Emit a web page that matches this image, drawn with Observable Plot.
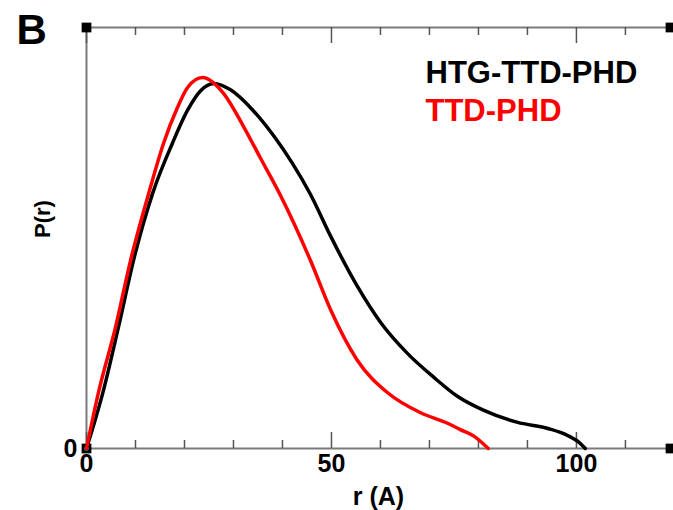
<!DOCTYPE html>
<html>
<head>
<meta charset="utf-8">
<script src="https://cdn.jsdelivr.net/npm/d3@7"></script>
<script src="https://cdn.jsdelivr.net/npm/@observablehq/plot@0.6"></script>
<style>
  html, body { margin: 0; padding: 0; background: white; }
</style>
</head>
<body>
<div id="chart"></div>
<script>
// Series: HTG-TTD-PHD (black)
const rBlack = [0, 3.3, 6.5, 9.6, 13.5, 17.5, 20.6, 23.3, 26, 29.4, 34, 38.5, 42, 45.7, 49.8, 55.3, 60, 65.5, 70.8, 75.7, 81, 88, 94, 98.2, 100.8, 101.8];
const pBlack = [0, 0.131, 0.287, 0.447, 0.606, 0.724, 0.803, 0.850, 0.867, 0.852, 0.803, 0.738, 0.678, 0.604, 0.505, 0.385, 0.300, 0.226, 0.170, 0.124, 0.091, 0.062, 0.048, 0.031, 0.012, 0];
// Series: TTD-PHD (red)
const rRed = [0, 2.4, 5.9, 9.0, 12.7, 15.7, 18.5, 20.6, 23.7, 28, 32, 35.5, 39.6, 45.7, 49.8, 55.3, 61.4, 68.2, 73.7, 76.3, 79, 82];
const pRed = [0, 0.131, 0.287, 0.447, 0.606, 0.724, 0.808, 0.857, 0.881, 0.843, 0.766, 0.690, 0.601, 0.447, 0.330, 0.209, 0.133, 0.085, 0.060, 0.045, 0.030, 0];

const seriesNames = ["HTG-TTD-PHD", "TTD-PHD"];
const seriesColors = ["black", "#ff0000"];

const xDomain = [0, 119.2];
const yDomain = [0, 1];
const minorTicks = [10, 20, 30, 40, 60, 70, 80, 90, 110];
const majorTicks = [0, 50, 100];
const xTickLabels = ["0", "50", "100"];
const yTickValues = [0];
const yTickLabels = ["0"];
const xLabel = "r (A)";
const yLabel = "P(r)";
const panelLetter = "B";

const black = rBlack.map((r, i) => ({r, p: pBlack[i]}));
const red = rRed.map((r, i) => ({r, p: pRed[i]}));
const corners = [
  {x: xDomain[0], y: yDomain[0]},
  {x: xDomain[0], y: yDomain[1]},
  {x: xDomain[1], y: yDomain[1]},
  {x: xDomain[1], y: yDomain[0]}
];

const frameColor = "#7a7a7a";
const boldFont = {fontWeight: "bold", fill: "black"};

const chart = Plot.plot({
  width: 673,
  height: 510,
  marginLeft: 86,
  marginRight: 3,
  marginTop: 27,
  marginBottom: 62,
  x: {domain: xDomain, axis: null},
  y: {domain: yDomain, axis: null},
  style: {fontFamily: "'Liberation Sans', Arial, sans-serif", background: "white", overflow: "visible"},
  marks: [
    // frame lines
    Plot.ruleY([yDomain[0]], {stroke: frameColor, strokeWidth: 2}),
    Plot.ruleY([yDomain[1]], {stroke: frameColor, strokeWidth: 2}),
    Plot.ruleX([xDomain[0]], {stroke: frameColor, strokeWidth: 2}),
    // bottom ticks (inward)
    Plot.tickX(minorTicks, {x: d => d, insetTop: 413, stroke: "#555", strokeWidth: 1.5}),
    Plot.tickX(majorTicks, {x: d => d, insetTop: 405, stroke: "#555", strokeWidth: 1.5}),
    // top ticks (inward)
    Plot.tickX(minorTicks, {x: d => d, insetBottom: 413, stroke: "#555", strokeWidth: 1.5}),
    Plot.tickX(majorTicks, {x: d => d, insetBottom: 405, stroke: "#555", strokeWidth: 1.5}),
    // corner markers
    Plot.dot(corners, {x: "x", y: "y", symbol: "square", r: 5.5, fill: "black"}),
    Plot.dot([corners[0]], {x: "x", y: "y", r: 2.2, fill: "#33dddd"}),
    // curves
    Plot.line(black, {x: "r", y: "p", stroke: seriesColors[0], strokeWidth: 3.5, curve: "monotone-x"}),
    Plot.line(red, {x: "r", y: "p", stroke: seriesColors[1], strokeWidth: 3.5, curve: "monotone-x"}),
    // tick labels
    Plot.text(majorTicks, {x: d => d, text: (d, i) => xTickLabels[i], frameAnchor: "bottom", lineAnchor: "top", dy: 6, fontSize: 25, ...boldFont}),
    Plot.text(yTickValues, {y: d => d, text: (d, i) => yTickLabels[i], frameAnchor: "left", textAnchor: "end", dx: -9, fontSize: 25, ...boldFont}),
    // axis labels
    Plot.text([xLabel], {text: d => d, frameAnchor: "bottom", lineAnchor: "top", dy: 39, fontSize: 25, ...boldFont}),
    Plot.text([yLabel], {text: d => d, frameAnchor: "left", rotate: -90, dx: -44, fontSize: 22, ...boldFont}),
    // panel letter
    Plot.text([panelLetter], {text: d => d, frameAnchor: "top-left", textAnchor: "start", lineAnchor: "top", dx: -70, dy: -13, fontSize: 42, ...boldFont}),
    // legend
    Plot.text([seriesNames[0]], {text: d => d, frameAnchor: "top-left", textAnchor: "start", lineAnchor: "top", dx: 339, dy: 33, fontSize: 31, fontWeight: "bold", fill: seriesColors[0]}),
    Plot.text([seriesNames[1]], {text: d => d, frameAnchor: "top-left", textAnchor: "start", lineAnchor: "top", dx: 339, dy: 71, fontSize: 31, fontWeight: "bold", fill: seriesColors[1]})
  ]
});
document.getElementById("chart").appendChild(chart);
</script>
</body>
</html>
